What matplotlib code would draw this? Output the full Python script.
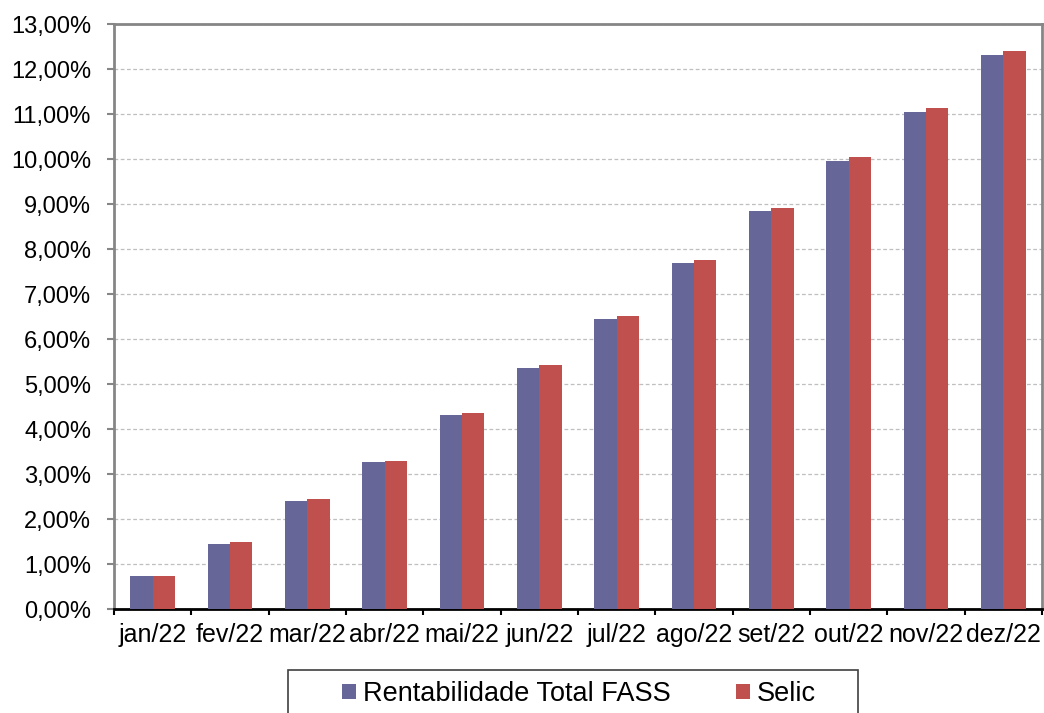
import numpy as np
import matplotlib.pyplot as plt
from matplotlib.patches import Rectangle
from matplotlib.ticker import FuncFormatter

plt.rcParams['font.family'] = ['Liberation Sans', 'DejaVu Sans']

months = ["jan/22", "fev/22", "mar/22", "abr/22", "mai/22", "jun/22",
          "jul/22", "ago/22", "set/22", "out/22", "nov/22", "dez/22"]
fass = [0.73, 1.46, 2.41, 3.27, 4.32, 5.37, 6.45, 7.70, 8.84, 9.95, 11.04, 12.31]
selic = [0.73, 1.50, 2.44, 3.29, 4.37, 5.43, 6.51, 7.75, 8.92, 10.04, 11.14, 12.40]
series_names = ["Rentabilidade Total FASS", "Selic"]

W, H = 1044, 713
fig = plt.figure(figsize=(W / 100, H / 100), dpi=100)
ax = fig.add_axes([114 / W, 1 - 609.3 / H, (1042 - 114) / W, (609.3 - 24) / H])

x = np.arange(len(months))
w = 0.29
ax.bar(x - w/2, fass, w, color="#666699", label=series_names[0], zorder=3)
ax.bar(x + w/2, selic, w, color="#C0504D", label=series_names[1], zorder=3)

ax.set_xlim(-0.5, len(months) - 0.5)
ax.set_ylim(0, 13)
ax.set_yticks(np.arange(0, 14, 1))
ax.yaxis.set_major_formatter(FuncFormatter(lambda v, p: f"{v:.2f}%".replace(".", ",")))
ax.set_xticks(x)
ax.set_xticklabels(months)
ax.set_xticks(np.arange(-0.5, len(months), 1), minor=True)
ax.tick_params(axis="x", which="major", length=0, labelsize=18, pad=10)
ax.tick_params(axis="x", which="minor", length=4.5, width=1.5, color="black")
ax.tick_params(axis="y", length=5, width=1.5, color="#868686", labelsize=17, pad=11.5)

ax.yaxis.grid(True, linestyle=(0, (3, 2)), color="#BFBFBF", linewidth=0.9, zorder=0)
for side in ["left", "top", "right"]:
    ax.spines[side].set_color("#868686")
    ax.spines[side].set_linewidth(2)
ax.spines["bottom"].set_color("black")
ax.spines["bottom"].set_linewidth(2)

# legend box (cut off by the bottom edge, like the original)
fig.patches.append(Rectangle((288 / W, -0.05), (858 - 288) / W, (713 - 670) / H + 0.05,
                             transform=fig.transFigure, fill=False,
                             edgecolor="#404040", linewidth=1.2))
fig.legend(loc="center left", bbox_to_anchor=(342 / W, 1 - 694 / H), ncol=2,
           fontsize=19.5, handlelength=0.52, handleheight=0.52, handletextpad=0.26,
           columnspacing=2.4, borderpad=0, borderaxespad=0, frameon=False)

fig.savefig("out.png", dpi=100)
